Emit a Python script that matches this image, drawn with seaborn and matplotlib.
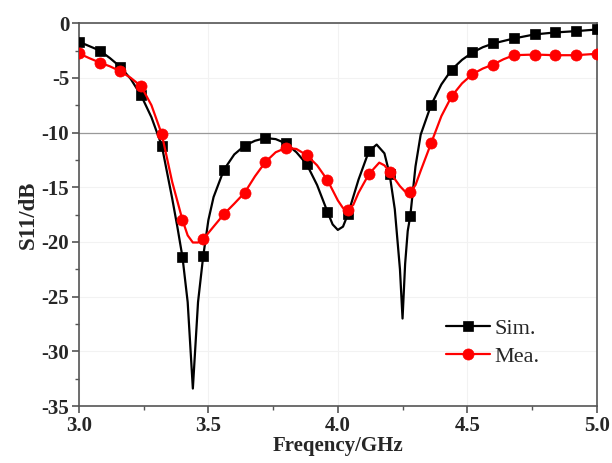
import numpy as np
import pandas as pd
import matplotlib
matplotlib.use('Agg')
import matplotlib.pyplot as plt
import seaborn as sns
from matplotlib.ticker import MultipleLocator, FormatStrFormatter

sns.set_style('ticks')
plt.rcParams['font.family'] = ['Liberation Serif', 'DejaVu Serif']
plt.rcParams['axes.unicode_minus'] = False

# simulated S11
sim_f = [3.00, 3.04, 3.08, 3.12, 3.16, 3.20, 3.24, 3.28, 3.32, 3.36, 3.38, 3.40,
         3.42, 3.44, 3.46, 3.48, 3.50, 3.52, 3.56, 3.60, 3.64, 3.68, 3.72, 3.76,
         3.80, 3.84, 3.88, 3.92, 3.96, 3.98, 4.00, 4.02, 4.04, 4.08, 4.12, 4.15,
         4.18, 4.20, 4.22, 4.24, 4.25, 4.26, 4.27, 4.28, 4.30, 4.32, 4.36, 4.40,
         4.44, 4.48, 4.52, 4.56, 4.60, 4.68, 4.76, 4.84, 4.92, 5.00]
sim_db = [-1.7, -2.1, -2.5, -3.2, -4.0, -5.1, -6.6, -8.6, -11.2, -16.0, -18.6, -21.4,
          -25.5, -33.4, -25.5, -21.3, -18.0, -15.9, -13.4, -12.0, -11.2, -10.75, -10.5, -10.6,
          -11.0, -11.8, -12.9, -14.8, -17.25, -18.4, -18.9, -18.6, -17.4, -14.3, -11.7, -11.1,
          -11.9, -13.8, -17.0, -22.5, -27.0, -22.0, -19.0, -17.6, -13.1, -10.2, -7.5, -5.6,
          -4.24, -3.35, -2.68, -2.2, -1.86, -1.4, -1.03, -0.85, -0.73, -0.58]

# measured S11
mea_f = [3.00, 3.04, 3.08, 3.12, 3.16, 3.20, 3.24, 3.28, 3.32, 3.36, 3.40, 3.42,
         3.44, 3.46, 3.48, 3.52, 3.56, 3.60, 3.64, 3.68, 3.72, 3.76, 3.80, 3.84,
         3.88, 3.92, 3.96, 4.00, 4.02, 4.04, 4.06, 4.08, 4.12, 4.16, 4.18, 4.20,
         4.24, 4.26, 4.28, 4.30, 4.32, 4.36, 4.40, 4.44, 4.48, 4.52, 4.56, 4.60,
         4.64, 4.68, 4.76, 4.84, 4.92, 5.00]
mea_db = [-2.77, -3.2, -3.6, -3.95, -4.4, -5.0, -5.76, -7.5, -10.15, -14.5, -18.0, -19.4,
          -20.05, -20.05, -19.75, -18.6, -17.46, -16.5, -15.5, -14.0, -12.7, -11.8, -11.4, -11.5,
          -12.07, -13.0, -14.35, -16.2, -16.9, -17.05, -16.6, -15.5, -13.8, -12.75, -13.0, -13.6,
          -14.9, -15.4, -15.45, -14.8, -13.5, -11.0, -8.5, -6.67, -5.5, -4.66, -4.15, -3.78,
          -3.3, -2.93, -2.87, -2.93, -2.93, -2.8]

marker_step = 0.08

def marks(freqs):
    k = (np.array(freqs) - 3.0) / marker_step
    return list(np.where(np.isclose(k, np.round(k)))[0])

sim = pd.DataFrame({'f': sim_f, 'db': sim_db})
mea = pd.DataFrame({'f': mea_f, 'db': mea_db})

fig = plt.figure(figsize=(6.12, 4.63), dpi=100)
ax = fig.add_axes([0.129, 0.123, 0.846, 0.827])

ax.axhline(-10, color='#999999', lw=0.9, zorder=1)

sns.lineplot(data=sim, x='f', y='db', sort=False, ax=ax, color='black', lw=1.6,
             marker='s', markersize=7, markeredgecolor='black', markeredgewidth=0.5,
             markevery=marks(sim_f), label='Sim.', zorder=3)
sns.lineplot(data=mea, x='f', y='db', sort=False, ax=ax, color='#ff0000', lw=1.6,
             marker='o', markersize=8, markeredgecolor='#ff0000', markeredgewidth=0.5,
             markevery=marks(mea_f), label='Mea.', zorder=4)

ax.set_xlim(3.0, 5.0)
ax.set_ylim(-35, 0)
ax.xaxis.set_major_locator(MultipleLocator(0.5))
ax.xaxis.set_minor_locator(MultipleLocator(0.25))
ax.yaxis.set_major_locator(MultipleLocator(5))
ax.yaxis.set_minor_locator(MultipleLocator(2.5))
ax.xaxis.set_major_formatter(FormatStrFormatter('%.1f'))
ax.grid(True, which='major', color='#f2f2f2', lw=0.8, zorder=0)

for s in ax.spines.values():
    s.set_color('#555555')
    s.set_linewidth(1.2)
ax.tick_params(which='major', direction='out', length=5, width=1.2, color='#555555',
               labelsize=15, pad=2, top=False, right=False)
ax.tick_params(which='minor', direction='out', length=3, width=1.0, color='#555555',
               top=False, right=False)
for lab in ax.get_xticklabels() + ax.get_yticklabels():
    lab.set_fontweight('bold')

ax.set_xlabel('Freqency/GHz', fontsize=15, fontweight='bold', labelpad=0)
ax.set_ylabel('S11/dB', fontsize=16.5, fontweight='bold', labelpad=2)

ax.legend(loc='upper left', bbox_to_anchor=(0.708, 0.23), frameon=False, fontsize=16,
          handlelength=2.0, handletextpad=0.2, labelspacing=0.35, borderpad=0,
          borderaxespad=0)

fig.savefig('out.png', dpi=100)
